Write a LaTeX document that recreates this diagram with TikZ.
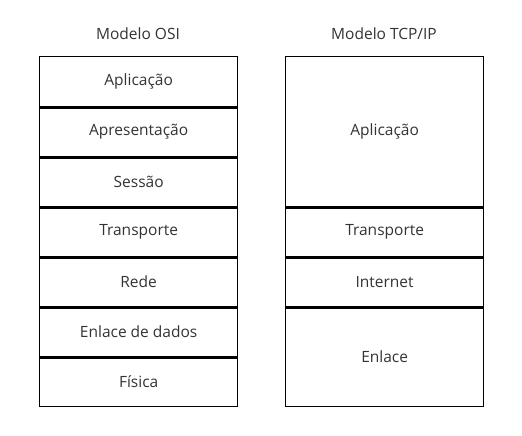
\documentclass[tikz,border=0pt]{standalone}
\usepackage{fontspec}
\setmainfont{Open Sans}
\definecolor{txt}{HTML}{333333}
\begin{document}
\begin{tikzpicture}[x=1pt,y=-1pt,
  layer/.style={draw=black,line width=1.3pt,minimum width=198pt,inner sep=0pt,anchor=north west,text=txt,font=\fontsize{15.5}{17}\selectfont},
  title/.style={text=txt,font=\fontsize{15.5}{17}\selectfont,inner sep=0pt}]
\useasboundingbox (0,0) rectangle (522,436);
% OSI
\node[title] (t1) at (138,34) {Modelo OSI};
\node[layer,minimum height=50pt] (o1) at (39,56) {Aplicação};
\node[layer,minimum height=50pt] (o2) at (39,106) {Apresentação};
\node[layer,minimum height=50pt] (o3) at (39,156) {Sessão};
\node[layer,minimum height=50pt] (o4) at (39,206) {Transporte};
\node[layer,minimum height=50pt] (o5) at (39,256) {Rede};
\node[layer,minimum height=50pt] (o6) at (39,306) {Enlace de dados};
\node[layer,minimum height=50pt] (o7) at (39,356) {Física};
% TCP/IP
\node[title] (t2) at (384,34) {Modelo TCP/IP};
\node[layer,minimum height=150pt] (p1) at (285,56) {Aplicação};
\node[layer,minimum height=50pt] (p2) at (285,206) {Transporte};
\node[layer,minimum height=50pt] (p3) at (285,256) {Internet};
\node[layer,minimum height=100pt] (p4) at (285,306) {Enlace};
% thicker shared borders
\foreach \a/\b in {o1/o2,o2/o3,o3/o4,o4/o5,o5/o6,o6/o7,p1/p2,p2/p3,p3/p4}
  \draw[line width=3pt] (\a.south west) -- (\a.south east);
\end{tikzpicture}
\end{document}
